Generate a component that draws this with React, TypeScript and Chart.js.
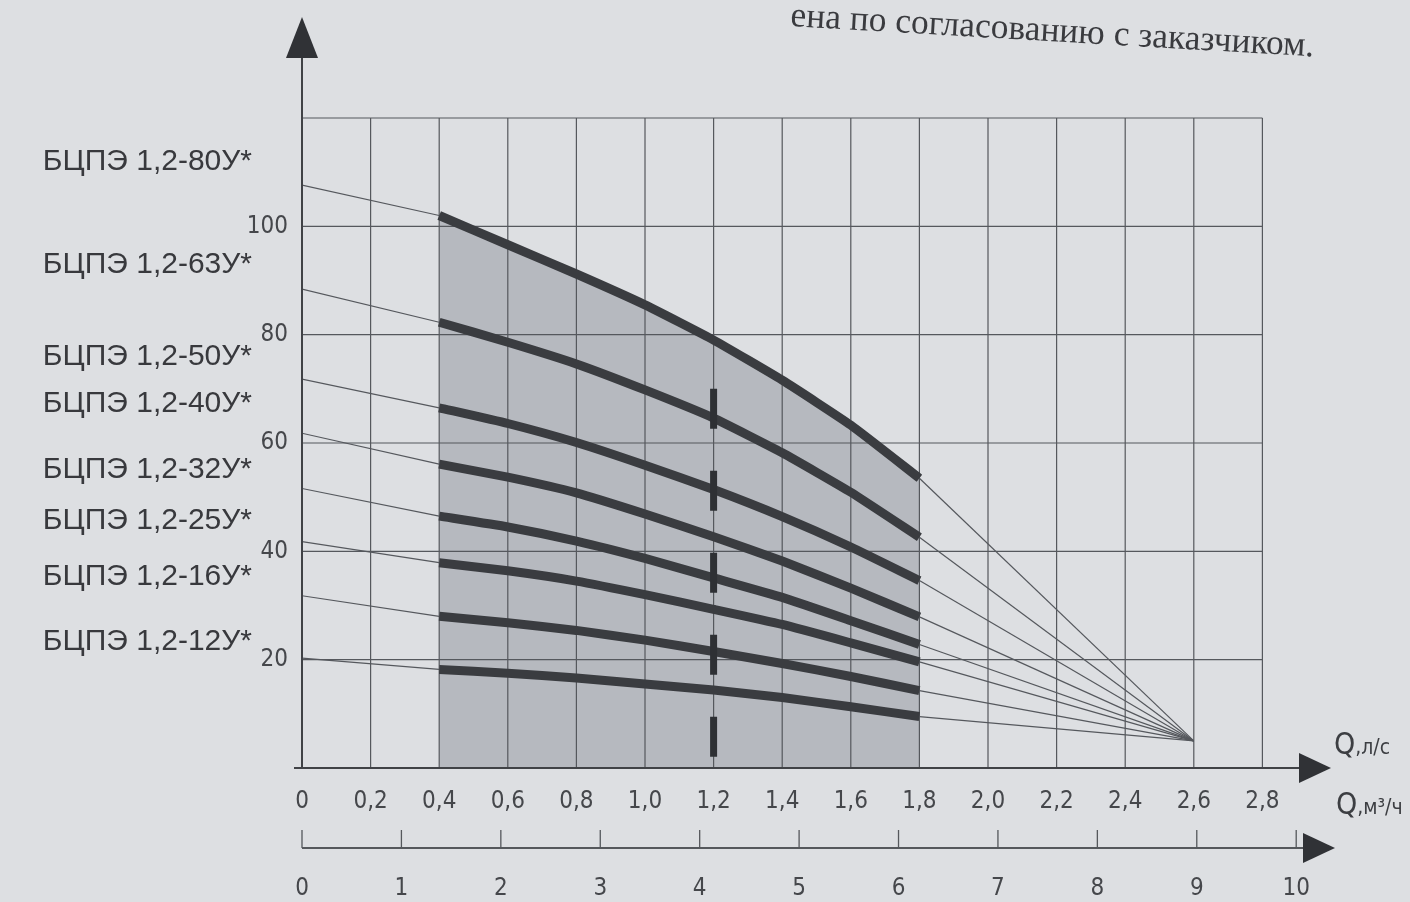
import { useEffect, useRef } from 'react';
import { Chart, registerables } from 'chart.js';

Chart.register(...registerables);

// ---------- DATA ----------
const Q_POINTS = [0.4, 0.6, 0.8, 1.0, 1.2, 1.4, 1.6, 1.8]; // l/s
const MODELS = [
  'БЦПЭ 1,2-80У*',
  'БЦПЭ 1,2-63У*',
  'БЦПЭ 1,2-50У*',
  'БЦПЭ 1,2-40У*',
  'БЦПЭ 1,2-32У*',
  'БЦПЭ 1,2-25У*',
  'БЦПЭ 1,2-16У*',
  'БЦПЭ 1,2-12У*',
];
const H_80 = [102, 96.6, 91.2, 85.5, 79, 71.6, 63.3, 53.5];
const H_63 = [82.3, 78.6, 74.6, 69.8, 64.6, 58.2, 50.9, 42.6];
const H_50 = [66.5, 63.6, 60.1, 55.9, 51.4, 46.4, 40.8, 34.6];
const H_40 = [56.1, 53.7, 50.8, 46.9, 42.7, 38.2, 33.2, 27.9];
const H_32 = [46.5, 44.5, 41.9, 38.7, 35.1, 31.5, 27.2, 22.8];
const H_25 = [37.9, 36.4, 34.5, 32, 29.3, 26.5, 23.1, 19.6];
const H_16 = [28, 26.8, 25.4, 23.6, 21.5, 19.3, 16.9, 14.3];
const H_12 = [18.2, 17.5, 16.6, 15.5, 14.4, 13, 11.3, 9.5];
const HEADS = [H_80, H_63, H_50, H_40, H_32, H_25, H_16, H_12];
const SHUTOFF_H = [107.6, 88.4, 71.8, 61.8, 51.6, 41.8, 31.8, 20.3]; // at Q = 0
const CONVERGE_Q = 2.6;
const CONVERGE_H = 5;
const NOMINAL_Q = 1.2;
const NOMINAL_TOP_H = 70;

const X_TICKS = [0, 0.2, 0.4, 0.6, 0.8, 1.0, 1.2, 1.4, 1.6, 1.8, 2.0, 2.2, 2.4, 2.6, 2.8];
const Y_TICKS = [20, 40, 60, 80, 100];
const Y_GRID = [20, 40, 60, 80, 100, 120];
const M3H_TICKS = [0, 1, 2, 3, 4, 5, 6, 7, 8, 9, 10];

const CAPTION = 'ена по согласованию с заказчиком.';

// ---------- LAYOUT / STYLE ----------
const W = 1410;
const H = 902;
const X_MAX = 3.0;
const GRID_X_MAX = 2.8;
const Y_MAX = 120;
const M3H_MAX = 10.35;
const LABEL_ANCHOR_H = [112, 93, 76, 67.3, 55, 45.6, 35.4, 23.4];
const BG = '#dddfe2';
const INK = '#3a3c40';
const GRID = '#55585d';
const FILL = 'rgba(128,133,142,0.42)';
const NARROW = "'Liberation Sans Narrow','DejaVu Sans Condensed','Liberation Sans',Arial,sans-serif";
const SANS = "'Liberation Sans',Arial,sans-serif";
const SERIF = "'Liberation Serif','Times New Roman',serif";

const fmt = (v: number) => (v === 0 ? '0' : v.toFixed(1).replace('.', ','));

export default function App() {
  const ref = useRef<HTMLCanvasElement | null>(null);

  useEffect(() => {
    if (!ref.current) return;

    const datasets: any[] = [];
    HEADS.forEach((hs, i) => {
      datasets.push({
        label: MODELS[i],
        data: Q_POINTS.map((q, j) => ({ x: q, y: hs[j] })),
        borderColor: INK,
        borderWidth: 9,
        borderCapStyle: 'butt',
        pointRadius: 0,
        tension: 0.15,
        fill: i === 0 ? 'origin' : false,
        backgroundColor: FILL,
        order: 1,
      });
      datasets.push({
        label: MODELS[i] + ' shutoff',
        data: [
          { x: 0, y: SHUTOFF_H[i] },
          { x: Q_POINTS[0], y: hs[0] },
        ],
        borderColor: GRID,
        borderWidth: 1.2,
        pointRadius: 0,
        fill: false,
        order: 5,
      });
      datasets.push({
        label: MODELS[i] + ' tail',
        data: [
          { x: Q_POINTS[Q_POINTS.length - 1], y: hs[hs.length - 1] },
          { x: CONVERGE_Q, y: CONVERGE_H },
        ],
        borderColor: GRID,
        borderWidth: 1.2,
        pointRadius: 0,
        fill: false,
        order: 5,
      });
    });
    datasets.push({
      label: 'nominal',
      data: [
        { x: NOMINAL_Q, y: NOMINAL_TOP_H },
        { x: NOMINAL_Q, y: 0 },
      ],
      borderColor: '#2e3034',
      borderWidth: 7,
      borderDash: [40, 42],
      borderCapStyle: 'butt',
      pointRadius: 0,
      fill: false,
      order: 0,
    });

    const decor = {
      id: 'decor',
      beforeDraw(chart: any) {
        const c = chart.ctx;
        c.save();
        c.fillStyle = BG;
        c.fillRect(0, 0, chart.width, chart.height);
        c.restore();
      },
      beforeDatasetsDraw(chart: any) {
        const c = chart.ctx;
        const xs = chart.scales.x;
        const ys = chart.scales.y;
        c.save();
        c.strokeStyle = GRID;
        c.lineWidth = 1.2;
        const x0 = xs.getPixelForValue(0);
        const x1 = xs.getPixelForValue(GRID_X_MAX);
        const y0 = ys.getPixelForValue(0);
        const y1 = ys.getPixelForValue(Y_MAX);
        c.beginPath();
        X_TICKS.forEach((v) => {
          if (v === 0) return;
          const px = xs.getPixelForValue(v);
          c.moveTo(px, y0);
          c.lineTo(px, y1);
        });
        Y_GRID.forEach((v) => {
          const py = ys.getPixelForValue(v);
          c.moveTo(x0, py);
          c.lineTo(x1, py);
        });
        c.stroke();
        c.restore();
      },
      afterDraw(chart: any) {
        const c = chart.ctx;
        const xs = chart.scales.x;
        const ys = chart.scales.y;
        const x2 = chart.scales.x2;
        const ox = xs.getPixelForValue(0);
        const oy = ys.getPixelForValue(0);
        c.save();
        c.strokeStyle = '#404246';
        c.fillStyle = '#303236';
        c.lineWidth = 2;
        // y axis with arrow
        const tipY = 17;
        c.beginPath();
        c.moveTo(ox, oy);
        c.lineTo(ox, tipY + 35);
        c.stroke();
        c.beginPath();
        c.moveTo(ox, tipY);
        c.lineTo(ox - 16, tipY + 41);
        c.lineTo(ox + 16, tipY + 41);
        c.closePath();
        c.fill();
        // x axis with arrow
        const tipX = chart.chartArea.right;
        c.beginPath();
        c.moveTo(ox - 8, oy);
        c.lineTo(tipX - 28, oy);
        c.stroke();
        c.beginPath();
        c.moveTo(tipX, oy);
        c.lineTo(tipX - 32, oy - 15);
        c.lineTo(tipX - 32, oy + 15);
        c.closePath();
        c.fill();
        // second axis (m3/h)
        const ly = x2.top;
        const lx0 = x2.getPixelForValue(0);
        const tip2 = x2.right + 4;
        c.strokeStyle = '#55585c';
        c.lineWidth = 2;
        c.beginPath();
        c.moveTo(lx0, ly);
        c.lineTo(tip2 - 28, ly);
        c.stroke();
        c.lineWidth = 1.3;
        c.beginPath();
        M3H_TICKS.forEach((v) => {
          const px = x2.getPixelForValue(v);
          c.moveTo(px, ly);
          c.lineTo(px, ly - 18);
        });
        c.stroke();
        c.beginPath();
        c.moveTo(tip2, ly);
        c.lineTo(tip2 - 32, ly - 15);
        c.lineTo(tip2 - 32, ly + 15);
        c.closePath();
        c.fill();

        // axis titles
        c.fillStyle = '#3c3e42';
        c.textBaseline = 'alphabetic';
        c.textAlign = 'left';
        c.font = `30px ${NARROW}`;
        c.fillText('Q', 1334, 754);
        let qw = c.measureText('Q').width;
        c.font = `21px ${NARROW}`;
        c.fillText(',л/с', 1334 + qw, 754);
        c.font = `30px ${NARROW}`;
        c.fillText('Q', 1336, 814);
        qw = c.measureText('Q').width;
        c.font = `21px ${NARROW}`;
        c.fillText(',м³/ч', 1336 + qw, 814);

        // model labels
        c.font = `30px ${SANS}`;
        c.textAlign = 'right';
        c.textBaseline = 'middle';
        c.fillStyle = '#38393d';
        MODELS.forEach((m, i) => {
          c.fillText(m, 252, ys.getPixelForValue(LABEL_ANCHOR_H[i]));
        });

        // caption (cut at the top in the photo)
        c.save();
        c.translate(790, 26);
        c.rotate(0.058);
        c.font = `32px ${SERIF}`;
        const cw = c.measureText(CAPTION).width;
        const fs = (32 * 525) / cw;
        c.font = `${fs.toFixed(1)}px ${SERIF}`;
        c.textAlign = 'left';
        c.textBaseline = 'alphabetic';
        c.fillStyle = '#3a3b3f';
        c.fillText(CAPTION, 0, 0);
        c.restore();
        c.restore();
      },
    };

    const chart = new Chart(ref.current, {
      type: 'line',
      data: { datasets },
      options: {
        animation: false,
        responsive: false,
        devicePixelRatio: 1,
        parsing: false,
        normalized: true,
        layout: { padding: { top: 118, right: 79, left: 0, bottom: 0 } },
        plugins: {
          legend: { display: false },
          tooltip: { enabled: false },
          filler: { drawTime: 'beforeDatasetsDraw' },
        },
        scales: {
          x: {
            type: 'linear',
            position: 'bottom',
            min: 0,
            max: X_MAX,
            grid: { display: false, drawTicks: false },
            border: { display: false },
            afterBuildTicks: (s: any) => {
              s.ticks = X_TICKS.map((v) => ({ value: v }));
            },
            afterFit: (s: any) => {
              s.height = 80;
            },
            ticks: {
              autoSkip: false,
              maxRotation: 0,
              padding: 19,
              color: '#45474b',
              font: { size: 24, family: NARROW },
              callback: (v: any) => fmt(Number(v)),
            },
          },
          x2: {
            type: 'linear',
            position: 'bottom',
            min: 0,
            max: M3H_MAX,
            grid: { display: false, drawTicks: false },
            border: { display: false },
            afterBuildTicks: (s: any) => {
              s.ticks = M3H_TICKS.map((v) => ({ value: v }));
            },
            afterFit: (s: any) => {
              s.height = 54;
            },
            ticks: {
              autoSkip: false,
              maxRotation: 0,
              padding: 26,
              color: '#45474b',
              font: { size: 24, family: NARROW },
              callback: (v: any) => String(v),
            },
          },
          y: {
            type: 'linear',
            min: 0,
            max: Y_MAX,
            grid: { display: false, drawTicks: false },
            border: { display: false },
            afterBuildTicks: (s: any) => {
              s.ticks = Y_TICKS.map((v) => ({ value: v }));
            },
            afterFit: (s: any) => {
              s.width = 302;
            },
            ticks: {
              padding: 14,
              color: '#45474b',
              font: { size: 24, family: NARROW },
              callback: (v: any) => String(v),
            },
          },
        },
      },
      plugins: [decor],
    } as any);

    return () => chart.destroy();
  }, []);

  return (
    <div style={{ position: 'fixed', left: 0, top: 0, width: W, height: H, background: BG }}>
      <canvas ref={ref} width={W} height={H} style={{ display: 'block', width: W, height: H }} />
    </div>
  );
}
